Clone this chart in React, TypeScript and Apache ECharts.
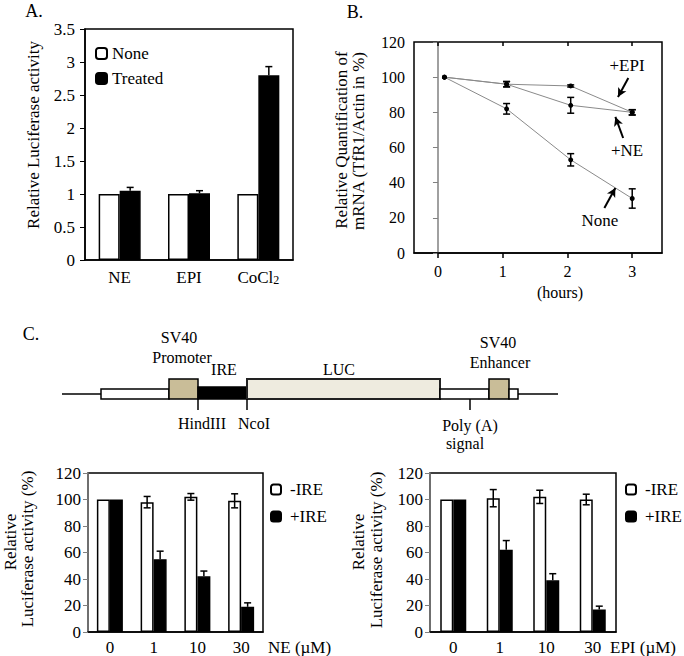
import React, { useEffect, useRef } from "react";
import * as echarts from "echarts";

const FONT = "Liberation Serif";

// ---------- Panel A ----------
const aCategories = ["NE", "EPI", "CoCl2"];
const aNone = [1, 1, 1];
const aTreated = [1.05, 1.01, 2.8];
const aTreatedErr = [0.05, 0.04, 0.13];
const aYTicks = [0, 3.5, 0.5]; // min, max, interval

// ---------- Panel B ----------
const bHours = [0.1, 1.06, 2.05, 3.0];
const bHourTicks = [0, 1, 2, 3];
const bNone = [100, 82, 53, 31];
const bNoneErr = [0, 3, 3.5, 5.5];
const bNE = [100, 96, 84, 80];
const bNEErr = [0, 1.5, 4.5, 1.5];
const bEPI = [100, 96, 95, 80];
const bEPIErr = [0, 1.5, 0.6, 1.5];

// ---------- Panel C ----------
const cDoses = ["0", "1", "10", "30"];
const neMinusIRE = [100, 98, 102, 99];
const neMinusIREErr = [0, 4.3, 2.5, 5.3];
const nePlusIRE = [100, 55, 42, 19];
const nePlusIREErr = [0, 6, 4, 3];
const epiMinusIRE = [100, 101, 102, 100];
const epiMinusIREErr = [0, 6.5, 5, 4];
const epiPlusIRE = [100, 62, 39, 17];
const epiPlusIREErr = [0, 7, 5, 2.5];

const txt = (size: number) => ({ fontFamily: FONT, fontSize: size, color: "#000" });

function errorBars(
  name: string,
  xIdx: number,
  yIdx: number,
  xs: number[],
  vals: number[],
  errs: number[],
  offset: number,
  upOnly: boolean
) {
  return {
    type: "custom",
    name,
    xAxisIndex: xIdx,
    yAxisIndex: yIdx,
    z: 10,
    silent: true,
    data: vals.map((v, i) => [xs[i], v, errs[i]]),
    renderItem: (_p: any, api: any) => {
      const x = api.value(0);
      const v = api.value(1);
      const e = api.value(2);
      if (!e) return null;
      const hi = api.coord([x, v + e]);
      const lo = api.coord([x, upOnly ? v : v - e]);
      const cx = hi[0] + offset;
      const cap = 3.5;
      const st = { stroke: "#000", lineWidth: 1.5 };
      const children: any[] = [
        { type: "line", shape: { x1: cx, y1: hi[1], x2: cx, y2: lo[1] }, style: st },
        { type: "line", shape: { x1: cx - cap, y1: hi[1], x2: cx + cap, y2: hi[1] }, style: st },
      ];
      if (!upOnly)
        children.push({ type: "line", shape: { x1: cx - cap, y1: lo[1], x2: cx + cap, y2: lo[1] }, style: st });
      return { type: "group", children };
    },
  };
}

const whiteBar = { color: "#fff", borderColor: "#000", borderWidth: 1.5 };
const blackBar = { color: "#000", borderColor: "#000", borderWidth: 1.5 };

function catAxis(grid: number, data: string[], extra: any = {}) {
  return {
    type: "category",
    gridIndex: grid,
    data,
    axisLine: { show: true, lineStyle: { color: "#000", width: 1.5 } },
    axisTick: { show: false },
    axisLabel: { ...txt(17), margin: 8, interval: 0 },
    splitLine: { show: false },
    ...extra,
  };
}

function valAxis(grid: number, min: number, max: number, interval: number, lineColor: string, margin: number, size = 17) {
  return {
    type: "value",
    gridIndex: grid,
    min,
    max,
    interval,
    axisLine: { show: true, lineStyle: { color: lineColor, width: 1.5 } },
    axisTick: { show: true, length: 5, lineStyle: { color: lineColor, width: 1 } },
    axisLabel: { ...txt(size), margin },
    splitLine: { show: false },
  };
}

const gridStyle = { show: true, borderColor: "#000", borderWidth: 1.5, backgroundColor: "transparent" };

function vtext(x: number, y: number, text: string, size: number) {
  return {
    type: "text",
    x,
    y,
    rotation: Math.PI / 2,
    style: { text, fontFamily: FONT, fontSize: size, fill: "#000", textAlign: "center", textVerticalAlign: "middle" },
  };
}
function htext(x: number, y: number, text: string, size: number, align = "center") {
  return {
    type: "text",
    x,
    y,
    style: { text, fontFamily: FONT, fontSize: size, fill: "#000", textAlign: align, textVerticalAlign: "middle" },
  };
}
function rect(x: number, y: number, w: number, h: number, fill: string, lw = 1.5, stroke = "#000") {
  return { type: "rect", shape: { x, y, width: w, height: h }, style: { fill, stroke, lineWidth: lw } };
}
function seg(x1: number, y1: number, x2: number, y2: number, lw = 1.5) {
  return { type: "line", shape: { x1, y1, x2, y2 }, style: { stroke: "#000", lineWidth: lw } };
}

const arrowStyle = {
  silent: true,
  symbol: ["none", "arrow"],
  symbolSize: [7, 9],
  lineStyle: { color: "#000", width: 2, type: "solid" },
  label: { show: false },
  emphasis: { disabled: true },
};

export default function App() {
  const ref = useRef<HTMLDivElement>(null);
  useEffect(() => {
    if (!ref.current) return;
    const chart = echarts.init(ref.current, undefined, { renderer: "svg" });
    const tan = "#c9bd98";
    const option: any = {
      animation: false,
      textStyle: { fontFamily: FONT },
      grid: [
        { left: 85, top: 29, width: 208, height: 231, ...gridStyle },
        { left: 414, top: 42, width: 248, height: 211, ...gridStyle },
        { left: 88, top: 473, width: 175, height: 159, ...gridStyle },
        { left: 430, top: 473, width: 186, height: 159, ...gridStyle },
      ],
      legend: [
        {
          left: 90,
          top: 40,
          orient: "vertical",
          itemWidth: 11,
          itemHeight: 11,
          itemGap: 8,
          selectedMode: false,
          data: ["None", "Treated"],
          textStyle: txt(17),
        },
        {
          left: 265,
          top: 476,
          orient: "vertical",
          itemWidth: 10,
          itemHeight: 10,
          itemGap: 10,
          selectedMode: false,
          data: ["-IRE", "+IRE"],
          textStyle: { ...txt(17), padding: [0, 0, 0, 4] },
        },
        {
          left: 620,
          top: 476,
          orient: "vertical",
          itemWidth: 10,
          itemHeight: 10,
          itemGap: 10,
          selectedMode: false,
          data: ["-IRE", "+IRE"],
          textStyle: { ...txt(17), padding: [0, 0, 0, 4] },
        },
      ],
      xAxis: [
        catAxis(0, aCategories, {
          axisLabel: {
            ...txt(17),
            margin: 9,
            interval: 0,
            formatter: (v: string) => (v === "CoCl2" ? "{n|CoCl}{s|2}" : v),
            rich: {
              n: { ...txt(17), lineHeight: 17, verticalAlign: "top" },
              s: { ...txt(12), lineHeight: 12, verticalAlign: "bottom", padding: [8, 0, 0, 0] },
            },
          },
        }),
        {
          type: "value",
          gridIndex: 1,
          min: -0.37,
          max: 3.46,
          axisLine: { show: true, lineStyle: { color: "#000", width: 1.5 } },
          axisTick: { show: true, length: 5, customValues: bHourTicks, lineStyle: { color: "#000", width: 1.5 } },
          axisLabel: { ...txt(16), margin: 10, customValues: bHourTicks },
          splitLine: { show: false },
        },
        {
          type: "value",
          gridIndex: 1,
          min: -0.37,
          max: 3.46,
          axisLine: { show: false },
          axisTick: { show: true, inside: true, length: 4, customValues: bHourTicks, lineStyle: { color: "#000", width: 1.5 } },
          axisLabel: { show: false },
          splitLine: { show: false },
        },
        catAxis(2, cDoses, { axisLabel: { ...txt(17), margin: 7, interval: 0 } }),
        catAxis(3, cDoses, { axisLabel: { ...txt(17), margin: 7, interval: 0 } }),
      ],
      yAxis: [
        valAxis(0, aYTicks[0], aYTicks[1], aYTicks[2], "#000", 10),
        valAxis(1, 0, 120, 20, "#808080", 9, 16),
        valAxis(2, 0, 120, 20, "#808080", 7),
        valAxis(3, 0, 120, 20, "#808080", 7),
      ],
      series: [
        // Panel A
        { type: "bar", name: "None", xAxisIndex: 0, yAxisIndex: 0, data: aNone, barWidth: 21, barGap: "0%", itemStyle: whiteBar },
        { type: "bar", name: "Treated", xAxisIndex: 0, yAxisIndex: 0, data: aTreated, barWidth: 21, barGap: "0%", itemStyle: blackBar },
        errorBars("A err", 0, 0, [0, 1, 2], aTreated, aTreatedErr, 10.5, true),
        // Panel B
        {
          type: "line",
          name: "B None",
          xAxisIndex: 1,
          yAxisIndex: 1,
          data: bHours.map((h, i) => [h, bNone[i]]),
          symbol: "circle",
          symbolSize: 5,
          itemStyle: { color: "#000" },
          lineStyle: { color: "#8a8a8a", width: 1 },
          z: 3,
          markLine: { ...arrowStyle, data: [[{ coord: [2.57, 25.6] }, { coord: [2.74, 37] }]] },
        },
        {
          type: "line",
          name: "B NE",
          xAxisIndex: 1,
          yAxisIndex: 1,
          data: bHours.map((h, i) => [h, bNE[i]]),
          symbol: "circle",
          symbolSize: 5,
          itemStyle: { color: "#000" },
          lineStyle: { color: "#8a8a8a", width: 1 },
          z: 3,
          markLine: { ...arrowStyle, data: [[{ coord: [2.86, 65.4] }, { coord: [2.74, 77.4] }]] },
        },
        {
          type: "line",
          name: "B EPI",
          xAxisIndex: 1,
          yAxisIndex: 1,
          data: bHours.map((h, i) => [h, bEPI[i]]),
          symbol: "circle",
          symbolSize: 5,
          itemStyle: { color: "#000" },
          lineStyle: { color: "#8a8a8a", width: 1 },
          z: 3,
          markLine: { ...arrowStyle, data: [[{ coord: [2.94, 99.5] }, { coord: [2.78, 88.7] }]] },
        },
        errorBars("B None err", 1, 1, bHours, bNone, bNoneErr, 0, false),
        errorBars("B NE err", 1, 1, bHours, bNE, bNEErr, 0, false),
        errorBars("B EPI err", 1, 1, bHours, bEPI, bEPIErr, 0, false),
        // Panel C - NE
        { type: "bar", name: "-IRE", xAxisIndex: 3, yAxisIndex: 2, data: neMinusIRE, barWidth: 13, barGap: "0%", itemStyle: whiteBar },
        { type: "bar", name: "+IRE", xAxisIndex: 3, yAxisIndex: 2, data: nePlusIRE, barWidth: 13, barGap: "0%", itemStyle: blackBar },
        errorBars("C1 minus err", 3, 2, [0, 1, 2, 3], neMinusIRE, neMinusIREErr, -6.5, false),
        errorBars("C1 plus err", 3, 2, [0, 1, 2, 3], nePlusIRE, nePlusIREErr, 6.5, true),
        // Panel C - EPI
        { type: "bar", name: "-IRE", xAxisIndex: 4, yAxisIndex: 3, data: epiMinusIRE, barWidth: 13, barGap: "0%", itemStyle: whiteBar },
        { type: "bar", name: "+IRE", xAxisIndex: 4, yAxisIndex: 3, data: epiPlusIRE, barWidth: 13, barGap: "0%", itemStyle: blackBar },
        errorBars("C2 minus err", 4, 3, [0, 1, 2, 3], epiMinusIRE, epiMinusIREErr, -6.5, false),
        errorBars("C2 plus err", 4, 3, [0, 1, 2, 3], epiPlusIRE, epiPlusIREErr, 6.5, true),
      ],
      graphic: [
        // panel letters
        htext(34, 11, "A.", 18),
        htext(355, 12, "B.", 18),
        htext(31, 334, "C.", 18),
        // axis titles
        vtext(33, 135, "Relative Luciferase activity", 17),
        vtext(341, 140, "Relative Quantification of", 17),
        vtext(358, 141, "mRNA (TfR1/Actin in %)", 17),
        htext(560, 292, "(hours)", 16),
        vtext(10, 542, "Relative", 17),
        vtext(27, 549, "Luciferase activity (%)", 17),
        vtext(358, 542, "Relative", 17),
        vtext(376, 550, "Luciferase activity (%)", 17),
        htext(268, 647, "NE (µM)", 17, "left"),
        htext(610, 647, "EPI (µM)", 17, "left"),
        // B annotations
        htext(627, 65, "+EPI", 17),
        htext(627, 150, "+NE", 17),
        htext(600, 220, "None", 17),
        // construct diagram
        seg(62, 394, 558, 394),
        rect(101, 389, 68, 10, "#fff"),
        rect(169, 379, 29, 20, tan),
        rect(198, 387, 49, 12, "#000"),
        rect(247, 379, 193, 20, "#eeebdf", 2, "#222"),
        rect(440, 389, 49, 10, "#fff"),
        rect(489, 379, 20, 20, tan),
        rect(509, 389, 9, 10, "#fff"),
        seg(198, 399, 198, 410),
        seg(247, 399, 247, 410),
        seg(470, 399, 470, 410),
        htext(179, 337, "SV40", 16),
        htext(182, 357, "Promoter", 16),
        htext(224, 369, "IRE", 16),
        htext(339, 369, "LUC", 16),
        htext(498, 342, "SV40", 16),
        htext(500, 362, "Enhancer", 16),
        htext(202, 423, "HindIII", 16),
        htext(254, 423, "NcoI", 16),
        htext(470, 425, "Poly (A)", 16),
        htext(465, 443, "signal", 16),
      ],
    };
    chart.setOption(option);
    return () => chart.dispose();
  }, []);
  return <div ref={ref} style={{ position: "absolute", left: 0, top: 0, width: 684, height: 656 }} />;
}
